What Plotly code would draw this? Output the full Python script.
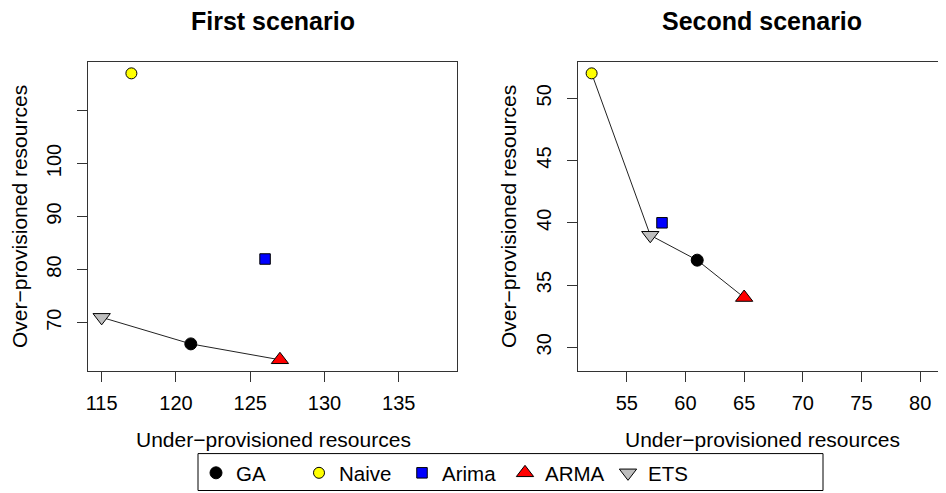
import plotly.graph_objects as go

# page body has an 8px margin, so the figure is drawn 8px in from the window edge
OFF = 8
W, H = 946 - OFF, 493 - OFF

# ---- data ----
methods = ["GA", "Naive", "Arima", "ARMA", "ETS"]
s1_under = [121, 117, 126, 127, 115]
s1_over = [66, 117, 82, 63, 71]
s2_under = [61, 52, 58, 65, 57]
s2_over = [37, 52, 40, 34, 39]
s1_front = ["ETS", "GA", "ARMA"]
s2_front = ["Naive", "ETS", "GA", "ARMA"]

s1_xticks = [115, 120, 125, 130, 135]
s1_yticks = [70, 80, 90, 100, 110]
s1_yticktext = ["70", "80", "90", "100", ""]
s2_xticks = [55, 60, 65, 70, 75, 80]
s2_yticks = [30, 35, 40, 45, 50]

# ---- styles ----
symbols = {"GA": "circle", "Naive": "circle", "Arima": "square",
           "ARMA": "triangle-up", "ETS": "triangle-down"}
fills = {"GA": "black", "Naive": "#FFFF00", "Arima": "#0000FF",
         "ARMA": "#FF0000", "ETS": "#BEBEBE"}
sizes = {"GA": 12, "Naive": 11, "Arima": 10.5, "ARMA": 15, "ETS": 15}

FONT = "Liberation Sans, Arial, Helvetica, sans-serif"


def px(x):
    return (x - OFF) / W


def py(y):
    return 1 - (y - OFF) / H


fig = go.Figure()

# Pareto-front lines
for under, over, front, xa, ya in [
    (s1_under, s1_over, s1_front, "x", "y"),
    (s2_under, s2_over, s2_front, "x2", "y2"),
]:
    idx = [methods.index(m) for m in front]
    fig.add_trace(go.Scatter(
        x=[under[i] for i in idx], y=[over[i] for i in idx],
        mode="lines", line=dict(color="#222222", width=1),
        showlegend=False, hoverinfo="skip", xaxis=xa, yaxis=ya))

# points
for i, m in enumerate(methods):
    mk = dict(symbol=symbols[m], size=sizes[m], color=fills[m],
              line=dict(color="black", width=1))
    fig.add_trace(go.Scatter(x=[s1_under[i]], y=[s1_over[i]], mode="markers",
                             marker=mk, name=m, legendgroup=m, showlegend=True,
                             xaxis="x", yaxis="y"))
    fig.add_trace(go.Scatter(x=[s2_under[i]], y=[s2_over[i]], mode="markers",
                             marker=mk, name=m, legendgroup=m, showlegend=False,
                             xaxis="x2", yaxis="y2"))

axis_common = dict(showgrid=False, zeroline=False, showline=True, mirror=True,
                   linecolor="#333333", linewidth=1, ticks="outside",
                   ticklen=10, tickwidth=1, tickcolor="#333333",
                   tickfont=dict(family=FONT, size=20, color="black"),
                   automargin=False, fixedrange=True)

fig.update_layout(
    width=W, height=H,
    margin=dict(l=0, r=0, t=0, b=0),
    paper_bgcolor="white", plot_bgcolor="white",
    font=dict(family=FONT, color="black"),
    xaxis=dict(domain=[px(88), px(457)], range=[114.08, 138.92],
               tickvals=s1_xticks, anchor="y", ticklabelstandoff=4, **axis_common),
    yaxis=dict(domain=[py(372), py(62)], range=[60.84, 119.16],
               tickvals=s1_yticks, ticktext=s1_yticktext, tickangle=-90,
               anchor="x", ticklabelstandoff=8, **axis_common),
    xaxis2=dict(domain=[px(578), px(945.5)], range=[50.84, 82.16],
                tickvals=s2_xticks, anchor="y2", ticklabelstandoff=4, **axis_common),
    yaxis2=dict(domain=[py(372), py(62)], range=[28.08, 52.92],
                tickvals=s2_yticks, tickangle=-90, anchor="x2",
                ticklabelstandoff=8, **axis_common),
    legend=dict(orientation="h", x=px(196), xanchor="left", y=py(474),
                yanchor="middle", borderwidth=0, bgcolor="rgba(0,0,0,0)",
                font=dict(family=FONT, size=20.5, color="black"),
                entrywidthmode="pixels", entrywidth=58, itemsizing="trace"),
    showlegend=True,
)

# legend box
fig.add_shape(type="rect", xref="paper", yref="paper",
              x0=px(198), x1=px(823), y0=py(491.5), y1=py(454.5),
              line=dict(color="black", width=1), fillcolor="rgba(0,0,0,0)")

ann = []
for cx, title in [(272.5, "First scenario"), (762, "Second scenario")]:
    ann.append(dict(x=px(cx), y=py(21), xref="paper", yref="paper",
                    text="<b>" + title + "</b>", showarrow=False,
                    xanchor="center", yanchor="middle",
                    font=dict(family=FONT, size=25, color="black")))
for cx in [273, 762.5]:
    ann.append(dict(x=px(cx), y=py(440), xref="paper", yref="paper",
                    text="Under\u2212provisioned resources", showarrow=False,
                    xanchor="center", yanchor="middle",
                    font=dict(family=FONT, size=21, color="black")))
for cx in [19.5, 508.5]:
    ann.append(dict(x=px(cx), y=py(217), xref="paper", yref="paper",
                    text="Over\u2212provisioned resources", showarrow=False,
                    textangle=-90, xanchor="center", yanchor="middle",
                    font=dict(family=FONT, size=21, color="black")))
fig.update_layout(annotations=ann)

fig.write_html("out.html")
